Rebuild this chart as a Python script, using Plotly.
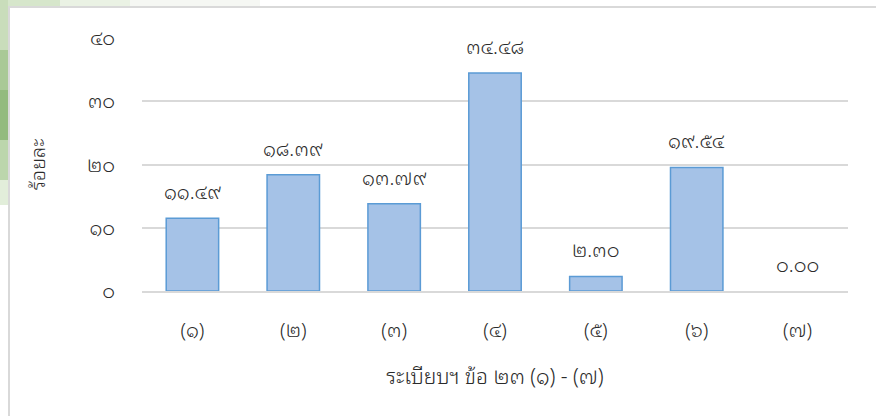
import plotly.graph_objects as go

TH = str.maketrans("0123456789", "๐๑๒๓๔๕๖๗๘๙")
def th(s):
    return str(s).translate(TH)

categories = ["(1)", "(2)", "(3)", "(4)", "(5)", "(6)", "(7)"]
values = [11.49, 18.39, 13.79, 34.48, 2.30, 19.54, 0.00]
y_ticks = [0, 10, 20, 30, 40]
x_title = "ระเบียบฯ ข้อ 23 (1) - (7)"
y_title = "ร้อยละ"

FONT = "Tahoma, 'Noto Sans Thai Looped', 'Noto Sans Thai', 'Noto Sans', sans-serif"
TXT = "#2b2b2b"
WT = 300

def f(size):
    return dict(family=FONT, size=size, color=TXT, weight=WT)

cat_th = [th(c) for c in categories]

fig = go.Figure()
fig.add_trace(go.Bar(
    x=cat_th, y=values,
    marker=dict(color="#A5C2E7",
                line=dict(color="#5B9BD5", width=[1.5 if v > 0 else 0 for v in values])),
    width=0.52,
    hoverinfo="skip",
))

for c, v in zip(cat_th, values):
    fig.add_annotation(x=c, y=v, text=th(f"{v:.2f}"), showarrow=False,
                       yanchor="bottom", yshift=10, font=f(20))

W, H = 876, 416
L, R, T, B = 142, 28, 38, 125
pw = W - L - R
ph = H - T - B
def px_x(p):
    return (p - L) / pw
def px_y(p):
    return (H - B - p) / ph

shapes = []
greens = [
    ("#C9DDBB", 0, 8, 0, 50),
    ("#A9C996", 0, 8, 50, 90),
    ("#93BB7F", 0, 8, 90, 140),
    ("#BCD6AC", 0, 8, 140, 180),
    ("#E2EEDA", 0, 8, 180, 205),
    ("#D6E6CB", 8, 60, 0, 6),
    ("#EAF2E4", 60, 130, 0, 6),
    ("#F5F7F3", 130, 260, 0, 6),
]
for col, x0, x1, y0, y1 in greens:
    shapes.append(dict(type="rect", xref="paper", yref="paper", layer="below",
                       x0=px_x(x0), x1=px_x(x1), y0=px_y(y1), y1=px_y(y0),
                       fillcolor=col, line=dict(width=0)))
shapes.append(dict(type="rect", xref="paper", yref="paper", layer="below",
                   x0=px_x(9), x1=px_x(900), y0=px_y(430), y1=px_y(7),
                   fillcolor="white", line=dict(color="#D9D9D9", width=2)))

fig.update_layout(
    width=W, height=H,
    margin=dict(l=L, r=R, t=T, b=B),
    paper_bgcolor="white", plot_bgcolor="rgba(0,0,0,0)",
    showlegend=False,
    shapes=shapes,
    font=f(19),
    xaxis=dict(
        showgrid=False, showline=True, linecolor="#D9D9D9", linewidth=1.5,
        ticks="", tickfont=f(20),
        ticklabelstandoff=20,
        title=dict(text=th(x_title), font=f(21), standoff=27),
    ),
    yaxis=dict(
        range=[0, 40], tickvals=y_ticks, ticktext=[th(t) for t in y_ticks],
        showgrid=True, gridcolor="#D9D9D9", gridwidth=1.5, zeroline=False,
        ticks="", tickfont=f(20),
        ticklabelstandoff=26,
        title=dict(text=y_title, font=f(20), standoff=36),
    ),
)

fig.write_html("out.html", config={"displayModeBar": False},
               post_script="document.body.style.margin='0';document.body.style.padding='0';")
